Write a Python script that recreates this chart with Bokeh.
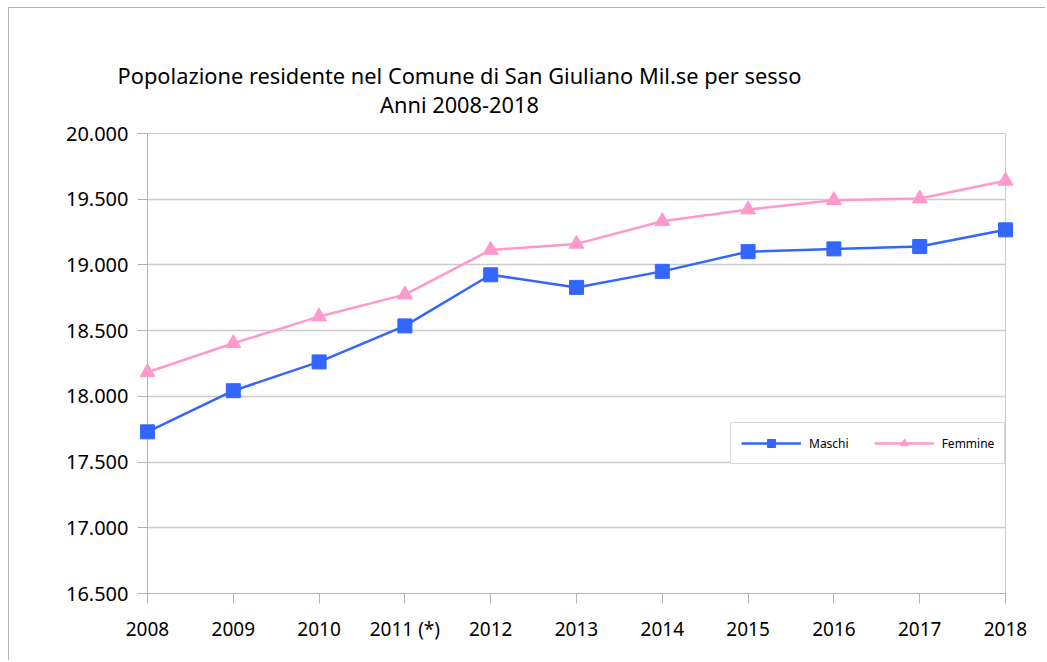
from bokeh.plotting import figure
from bokeh.models import FixedTicker, Range1d, Legend, LegendItem, ColumnDataSource
from bokeh.core.properties import value
from bokeh.embed import file_html
from bokeh.resources import INLINE

years = ["2008", "2009", "2010", "2011 (*)", "2012", "2013", "2014", "2015", "2016", "2017", "2018"]
maschi = [17730, 18043, 18262, 18536, 18925, 18829, 18951, 19101, 19122, 19140, 19267]
femmine = [18183, 18404, 18607, 18774, 19114, 19160, 19332, 19421, 19492, 19505, 19640]
y_ticks = [16500, 17000, 17500, 18000, 18500, 19000, 19500, 20000]
y_tick_labels = ["16.500", "17.000", "17.500", "18.000", "18.500", "19.000", "19.500", "20.000"]
title_lines = ["Popolazione residente nel Comune di San Giuliano Mil.se per sesso", "Anni 2008-2018"]
series_names = ["Maschi", "Femmine"]

# layout of the two title lines (data-space anchor above the plot frame)
TITLE_X = 3.636
TITLE_Y = [20440, 20221]

FONT = "Noto Sans"
BLUE = "#3366ff"
PINK = "#ff99cc"
GRID = "#cccccc"
AXIS = "#b3b3b3"

xs = list(range(len(years)))
src = ColumnDataSource(dict(x=xs, m=maschi, f=femmine))

p = figure(width=1037, height=653, output_backend="svg", toolbar_location=None,
           x_range=Range1d(0, len(years) - 1), y_range=Range1d(y_ticks[0], y_ticks[-1]),
           min_border_left=138, min_border_right=41, min_border_top=125, min_border_bottom=68)
p.styles = {"margin-left": "8px", "margin-top": "7px",
            "border-left": "1px solid #b3b3b3", "border-top": "1px solid #b3b3b3"}
p.background_fill_color = "white"
p.border_fill_color = "white"
p.outline_line_color = GRID

for ax in (p.xaxis[0], p.yaxis[0]):
    ax.axis_line_color = AXIS
    ax.major_tick_line_color = AXIS
    ax.major_tick_in = 0
    ax.major_tick_out = 10
    ax.minor_tick_line_color = None
    ax.major_label_text_font = FONT
    ax.major_label_text_color = "black"

p.xaxis[0].major_label_text_font_size = "19px"
p.yaxis[0].major_label_text_font_size = "20px"
p.xaxis[0].ticker = FixedTicker(ticks=xs)
p.xaxis[0].major_label_overrides = {i: lab for i, lab in enumerate(years)}
p.xaxis[0].major_label_standoff = 12
p.yaxis[0].ticker = FixedTicker(ticks=y_ticks)
p.yaxis[0].major_label_overrides = {t: lab for t, lab in zip(y_ticks, y_tick_labels)}
p.yaxis[0].major_label_standoff = 9

p.xgrid.grid_line_color = None
p.ygrid.grid_line_color = GRID
p.ygrid.grid_line_width = 1.5

lm = p.line("x", "m", source=src, line_color=BLUE, line_width=2.5, level="overlay")
sm = p.scatter("x", "m", source=src, marker="square", size=14, fill_color=BLUE,
               line_color=BLUE, level="overlay")
lf = p.line("x", "f", source=src, line_color=PINK, line_width=2.5, level="overlay")
sf = p.scatter("x", "f", source=src, marker="triangle", size=15, fill_color=PINK,
               line_color=PINK, level="overlay")

legend = Legend(items=[LegendItem(label=series_names[0], renderers=[lm, sm]),
                       LegendItem(label=series_names[1], renderers=[lf, sf])],
                orientation="horizontal", location=(583, 129),
                glyph_width=60, glyph_height=20, label_height=12, label_standoff=8,
                spacing=25, padding=10, margin=0,
                label_text_font=FONT, label_text_font_size="12px", label_text_color="black",
                border_line_color=AXIS, border_line_width=1.5, background_fill_color="white",
                background_fill_alpha=1)
p.add_layout(legend)

tsrc = ColumnDataSource(dict(x=[TITLE_X] * len(title_lines), y=TITLE_Y, text=title_lines))
p.text("x", "y", text="text", source=tsrc, text_align="center", text_baseline="middle",
       text_font=value(FONT), text_font_size=value("21.8px"), text_color="black",
       level="overlay")

open("out.html", "w").write(file_html(p, INLINE))
